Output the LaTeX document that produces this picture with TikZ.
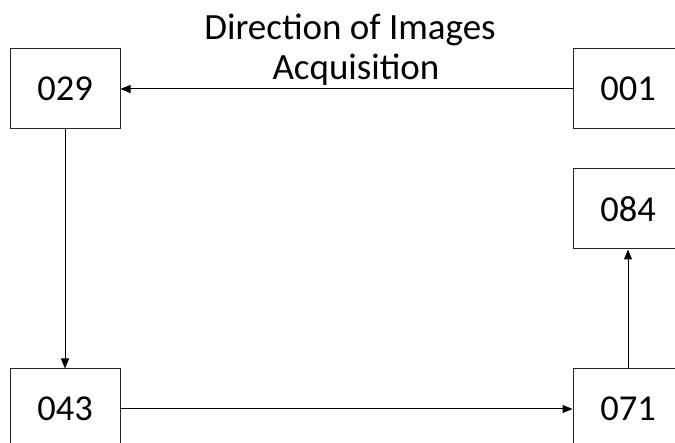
\documentclass[tikz,border=0pt]{standalone}
\usepackage{fontspec}
\setmainfont{Carlito}
\usetikzlibrary{arrows.meta}
\tikzset{
  frame/.style={draw=black!85, line width=1pt, minimum width=110pt, minimum height=80pt,
    inner sep=0pt, font=\fontsize{36.5}{40}\selectfont},
  link/.style={draw=black, line width=1pt, -{Triangle[length=10pt,width=8pt]}},
  caption/.style={font=\fontsize{37}{40}\selectfont, inner sep=0pt, anchor=base}
}
\begin{document}
\begin{tikzpicture}[x=1pt,y=-1pt]
  \useasboundingbox (0,0) rectangle (675,443);
  \clip (0,0) rectangle (675,443);
  % image boxes
  \node[frame] (b029) at (65,89) {029};
  \node[frame] (b001) at (628,89) {001};
  \node[frame] (b084) at (628,209) {084};
  \node[frame] (b043) at (65,409) {043};
  \node[frame] (b071) at (628,409) {071};
  % acquisition path
  \draw[link] (b001) -- (b029);
  \draw[link] (b029) -- (b043);
  \draw[link] (b043) -- (b071);
  \draw[link] (b071) -- (b084);
  % caption
  \node[caption] (cap1) at (350,40) {Direction of Images};
  \node[caption] (cap2) at (356,80) {Acquisition};
\end{tikzpicture}
\end{document}
